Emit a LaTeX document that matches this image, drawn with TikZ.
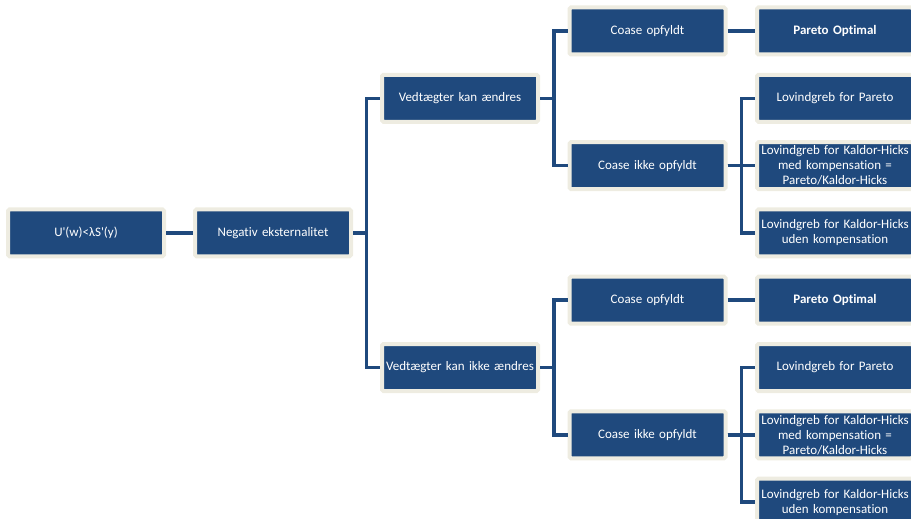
\documentclass[tikz,border=0pt]{standalone}
\usepackage{fontspec}
\setmainfont{Carlito}[Ligatures={TeXOff,NoCommon}]
\definecolor{boxblue}{HTML}{1F497D}
\definecolor{cream}{HTML}{EEECE1}
\begin{document}
\begin{tikzpicture}[x=1pt,y=-1pt,
  box/.style={rectangle, fill=boxblue, draw=cream, line width=4pt, rounded corners=1.5pt,
    minimum width=156pt, minimum height=47pt, inner sep=0pt, text=white,
    font=\fontsize{13}{15}\selectfont, align=center, text width=154pt},
  conn/.style={draw=boxblue, line width=3.5pt}]
\useasboundingbox (0,0) rectangle (911,519);
\clip (0,0) rectangle (911,519);
\def\yy#1{31+67.3*#1}
\node[box] (u)   at (86,{\yy{3}}) {U'(w)<λS'(y)};
\node[box] (neg) at (273,{\yy{3}}) {Negativ eksternalitet};
\node[box] (v1)  at (460,{\yy{1}}) {Vedtægter kan ændres};
\node[box] (v2)  at (460,{\yy{5}}) {Vedtægter kan ikke ændres};
\node[box] (c1)  at (647.5,{\yy{0}}) {Coase opfyldt};
\node[box] (n1)  at (647.5,{\yy{2}}) {Coase ikke opfyldt};
\node[box] (c2)  at (647.5,{\yy{4}}) {Coase opfyldt};
\node[box] (n2)  at (647.5,{\yy{6}}) {Coase ikke opfyldt};
\node[box] (p1)  at (835,{\yy{0}}) {\bfseries Pareto Optimal};
\node[box] (l1)  at (835,{\yy{1}}) {Lovindgreb for Pareto};
\node[box] (k1)  at (835,{\yy{2}}) {Lovindgreb for Kaldor-Hicks\\med kompensation =\\Pareto/Kaldor-Hicks};
\node[box] (w1)  at (835,{\yy{3}}) {Lovindgreb for Kaldor-Hicks\\uden kompensation};
\node[box] (p2)  at (835,{\yy{4}}) {\bfseries Pareto Optimal};
\node[box] (l2)  at (835,{\yy{5}}) {Lovindgreb for Pareto};
\node[box] (k2)  at (835,{\yy{6}}) {Lovindgreb for Kaldor-Hicks\\med kompensation =\\Pareto/Kaldor-Hicks};
\node[box] (w2)  at (835,{\yy{7}}) {Lovindgreb for Kaldor-Hicks\\uden kompensation};
\draw[conn] (u.east) -- (neg.west);
\draw[conn] (neg.east) -- ++(13.5,0) |- (v1.west);
\draw[conn] (neg.east) -- ++(13.5,0) |- (v2.west);
\draw[conn] (v1.east) -- ++(14,0) |- (c1.west);
\draw[conn] (v1.east) -- ++(14,0) |- (n1.west);
\draw[conn] (v2.east) -- ++(14,0) |- (c2.west);
\draw[conn] (v2.east) -- ++(14,0) |- (n2.west);
\draw[conn] (c1.east) -- (p1.west);
\draw[conn] (c2.east) -- (p2.west);
\draw[conn] (n1.east) -- ++(14,0) |- (l1.west);
\draw[conn] (n1.east) -- ++(14,0) |- (k1.west);
\draw[conn] (n1.east) -- ++(14,0) |- (w1.west);
\draw[conn] (n2.east) -- ++(14,0) |- (l2.west);
\draw[conn] (n2.east) -- ++(14,0) |- (k2.west);
\draw[conn] (n2.east) -- ++(14,0) |- (w2.west);
\end{tikzpicture}
\end{document}
